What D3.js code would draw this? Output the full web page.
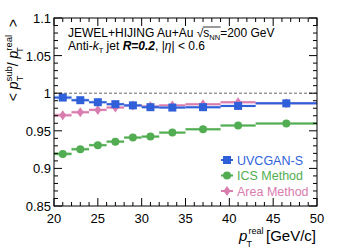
<!DOCTYPE html>
<html lang="en">
<head>
<meta charset="UTF-8">
<title>pT sub / pT real</title>
<script src="https://cdn.jsdelivr.net/npm/d3@7"></script>
<style>
    body { margin: 0; background: #fff; }
    svg { font-family: "Liberation Sans", Arial, sans-serif; }
</style>
</head>
<body>
<div id="chart"></div>
<script>
    // bin edges in pT real (GeV/c)
    const binEdges = [20, 22, 24, 26, 28, 30, 32, 35, 39, 43, 50];
    const uvcgan = [0.9942, 0.9907, 0.9880, 0.9854, 0.9838, 0.9814, 0.9809, 0.9814, 0.9831, 0.9865];
    const ics    = [0.9193, 0.9255, 0.9309, 0.9356, 0.9410, 0.9423, 0.9476, 0.9520, 0.9570, 0.9596];
    const area   = [0.9707, 0.9747, 0.9778, 0.9810, 0.9835, 0.9825, 0.9838, 0.9854, 0.9880, 0.9868];
    const errs   = [0.0025, 0.0022, 0.0020, 0.0020, 0.0020, 0.0020, 0.0018, 0.0018, 0.0018, 0.0018];
    const xTicks = [20, 25, 30, 35, 40, 45, 50];
    const yTicks = [0.85, 0.9, 0.95, 1, 1.05, 1.1];

    const width = 341, height = 248;
    const m = {left: 54, right: 24, top: 18, bottom: 42};

    const svg = d3.select("#chart").append("svg")
        .attr("width", width).attr("height", height);

    const x = d3.scaleLinear().domain([20, 50]).range([m.left, width - m.right]);
    const y = d3.scaleLinear().domain([0.85, 1.1]).range([height - m.bottom, m.top]);

    const series = [
        {name: "UVCGAN-S", values: uvcgan, color: "#2f5fd9", band: "#a9bcf2", marker: "square"},
        {name: "ICS Method", values: ics, color: "#52ad52", band: "#b4dcb4", marker: "circle"},
        {name: "Area Method", values: area, color: "#d97cae", band: "#f0c4dc", marker: "diamond"}
    ];

    const bins = binEdges.slice(0, -1).map((lo, i) => ({lo: lo, hi: binEdges[i + 1], c: (lo + binEdges[i + 1]) / 2}));

    // reference line at 1
    svg.append("line")
        .attr("x1", x(20)).attr("x2", x(50))
        .attr("y1", y(1)).attr("y2", y(1))
        .attr("stroke", "#666").attr("stroke-width", 1)
        .attr("stroke-dasharray", "3,2");

    function drawMarker(g, type, cx, cy, color) {
        if (type === "square") {
            g.append("rect").attr("x", cx - 4).attr("y", cy - 4)
                .attr("width", 8).attr("height", 8).attr("fill", color);
        } else if (type === "circle") {
            g.append("circle").attr("cx", cx).attr("cy", cy).attr("r", 4).attr("fill", color);
        } else {
            g.append("path")
                .attr("d", `M${cx},${cy - 5}L${cx + 3.5},${cy}L${cx},${cy + 5}L${cx - 3.5},${cy}Z`)
                .attr("fill", color);
        }
    }

    // draw back to front: area, ics, uvcgan on top
    [series[2], series[1], series[0]].forEach(s => {
        const g = svg.append("g");
        bins.forEach((b, i) => {
            const v = s.values[i];
            g.append("rect")
                .attr("x", x(b.lo)).attr("width", x(b.hi) - x(b.lo))
                .attr("y", y(v + errs[i])).attr("height", y(v - errs[i]) - y(v + errs[i]))
                .attr("fill", s.band).attr("opacity", 0.6);
            g.append("line")
                .attr("x1", x(b.lo)).attr("x2", x(b.hi))
                .attr("y1", y(v)).attr("y2", y(v))
                .attr("stroke", s.color).attr("stroke-width", 2);
            g.append("line")
                .attr("x1", x(b.c)).attr("x2", x(b.c))
                .attr("y1", y(v + errs[i])).attr("y2", y(v - errs[i]))
                .attr("stroke", s.color).attr("stroke-width", 1.5);
            drawMarker(g, s.marker, x(b.c), y(v), s.color);
        });
    });

    // frame
    svg.append("rect")
        .attr("x", x(20)).attr("y", y(1.1))
        .attr("width", x(50) - x(20)).attr("height", y(0.85) - y(1.1))
        .attr("fill", "none").attr("stroke", "#000").attr("stroke-width", 1);

    // ticks (inward, both sides)
    const tg = svg.append("g").attr("stroke", "#000").attr("stroke-width", 1);
    d3.range(20, 50.01, 1).forEach(t => {
        const len = t % 5 === 0 ? 8 : 4;
        tg.append("line").attr("x1", x(t)).attr("x2", x(t))
            .attr("y1", y(0.85)).attr("y2", y(0.85) - len);
        tg.append("line").attr("x1", x(t)).attr("x2", x(t))
            .attr("y1", y(1.1)).attr("y2", y(1.1) + len);
    });
    d3.range(85, 110.01, 1).forEach(k => {
        const t = k / 100;
        const len = k % 5 === 0 ? 8 : 4;
        tg.append("line").attr("x1", x(20)).attr("x2", x(20) + len)
            .attr("y1", y(t)).attr("y2", y(t));
        tg.append("line").attr("x1", x(50)).attr("x2", x(50) - len)
            .attr("y1", y(t)).attr("y2", y(t));
    });

    // tick labels
    svg.append("g").selectAll("text").data(xTicks).enter().append("text")
        .attr("x", d => x(d)).attr("y", y(0.85) + 17)
        .attr("text-anchor", "middle").attr("font-size", 13)
        .text(d => d);
    svg.append("g").selectAll("text").data(yTicks).enter().append("text")
        .attr("x", x(20) - 3).attr("y", d => y(d) + 5)
        .attr("text-anchor", "end").attr("font-size", 13)
        .text(d => d3.format("")(d));

    // axis titles
    const xt = svg.append("text")
        .attr("x", x(50) - 1).attr("y", 241)
        .attr("text-anchor", "end").attr("font-size", 15);
    xt.append("tspan").attr("font-style", "italic").text("p");
    xt.append("tspan").attr("font-size", 9).attr("dx", 1).attr("dy", -7).text("real");
    xt.append("tspan").attr("font-size", 9).attr("dx", -17).attr("dy", 13).text("T");
    xt.append("tspan").attr("dx", 14).attr("dy", -6).text("[GeV/c]");

    const yt = svg.append("text")
        .attr("transform", `translate(18,${m.top + 1}) rotate(-90)`)
        .attr("text-anchor", "end").attr("font-size", 14);
    yt.append("tspan").text("< ");
    yt.append("tspan").attr("font-style", "italic").text("p");
    yt.append("tspan").attr("font-size", 9.5).attr("dy", -6).text("sub");
    yt.append("tspan").attr("font-size", 9.5).attr("dx", -15).attr("dy", 11).text("T");
    yt.append("tspan").attr("dx", 9).attr("dy", -5).text("/");
    yt.append("tspan").attr("font-style", "italic").text(" p");
    yt.append("tspan").attr("font-size", 9.5).attr("dy", -6).text("real");
    yt.append("tspan").attr("font-size", 9.5).attr("dx", -18).attr("dy", 11).text("T");
    yt.append("tspan").attr("dx", 16).attr("dy", -5).text(" >");

    // annotation
    const a1 = svg.append("text").attr("x", 68).attr("y", 37).attr("font-size", 12);
    a1.append("tspan").text("JEWEL+HIJING Au+Au \u221A");
    a1.append("tspan").attr("class", "rad").text("s");
    a1.append("tspan").attr("class", "rad").attr("font-size", 7.5).attr("dy", 3).text("NN");
    a1.append("tspan").attr("dy", -3).text("=200 GeV");
    // overline of the square root, measured from the text
    const radStart = a1.select("tspan.rad").node().getStartPositionOfChar(0).x;
    const nn = a1.selectAll("tspan.rad").nodes()[1];
    const radEnd = nn.getEndPositionOfChar(1).x;
    svg.append("line").attr("x1", radStart - 0.5).attr("x2", radEnd + 0.5).attr("y1", 27).attr("y2", 27)
        .attr("stroke", "#000").attr("stroke-width", 0.8);

    const a2 = svg.append("text").attr("x", 68).attr("y", 50).attr("font-size", 12);
    a2.append("tspan").text("Anti-");
    a2.append("tspan").attr("font-style", "italic").text("k");
    a2.append("tspan").attr("font-size", 7.5).attr("dy", 3).text("T");
    a2.append("tspan").attr("dy", -3).text(" jet  ");
    a2.append("tspan").attr("font-style", "italic").attr("font-weight", "bold").text("R=0.2");
    a2.append("tspan").text(", |");
    a2.append("tspan").attr("font-style", "italic").text("\u03B7");
    a2.append("tspan").text("| < 0.6");

    // legend
    const leg = svg.append("g");
    series.forEach((s, i) => {
        const ly = 160 + i * 15.5;
        leg.append("line").attr("x1", 221).attr("x2", 233).attr("y1", ly).attr("y2", ly)
            .attr("stroke", s.color).attr("stroke-width", 2);
        drawMarker(leg, s.marker, 227, ly, s.color);
        leg.append("text").attr("x", 237).attr("y", ly + 4.5)
            .attr("font-size", 12.5).attr("fill", s.color).text(s.name);
    });
</script>
</body>
</html>
